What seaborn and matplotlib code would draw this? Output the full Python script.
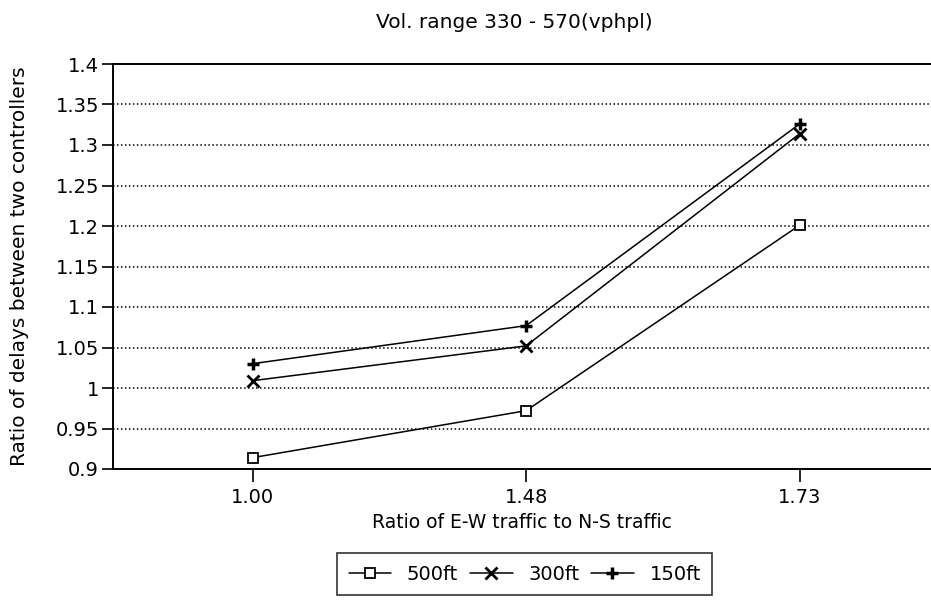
import pandas as pd
import matplotlib
matplotlib.use("Agg")
import matplotlib.pyplot as plt
import seaborn as sns

# values
ratios = ["1.00", "1.48", "1.73"]
delay_500 = [0.914, 0.972, 1.201]
delay_300 = [1.009, 1.052, 1.314]
delay_150 = [1.030, 1.077, 1.326]
series_names = ["500ft", "300ft", "150ft"]
ytick_vals = [0.9, 0.95, 1.0, 1.05, 1.1, 1.15, 1.2, 1.25, 1.3, 1.35, 1.4]
ytick_labels = ["0.9", "0.95", "1", "1.05", "1.1", "1.15", "1.2", "1.25", "1.3", "1.35", "1.4"]

df = pd.DataFrame({
    "ratio": ratios * 3,
    "delay": delay_500 + delay_300 + delay_150,
    "spacing": [s for s in series_names for _ in ratios],
})

sns.set_style("white")
plt.rcParams["font.family"] = ["DejaVu Sans"]
plt.rcParams["text.color"] = "black"
plt.rcParams["axes.labelcolor"] = "black"

fig = plt.figure(figsize=(9.31, 6.0), dpi=100)
ax = fig.add_axes([113 / 931, 1 - 469 / 600, 1 - 113 / 931, (469 - 64) / 600])

sns.pointplot(data=df, x="ratio", y="delay", hue="spacing", order=ratios,
              hue_order=series_names, palette=["black"] * 3,
              markers=["s", "x", "+"], linestyles=["-", "-", "-"],
              errorbar=None, dodge=False, ax=ax, legend=False)

# marker styling
styles = {
    "500ft": dict(marker="s", markersize=6.5, markerfacecolor="white", markeredgewidth=1.3),
    "300ft": dict(marker="x", markersize=9, markeredgewidth=2.0),
    "150ft": dict(marker="+", markersize=9, markeredgewidth=2.5),
}
data_lines = [l for l in ax.lines if len(l.get_xdata()) == len(ratios)]
for line, name in zip(data_lines, series_names):
    line.set_color("black")
    line.set_linewidth(1.1)
    line.set(**styles[name])
    line.set_zorder(3)
    line.set_label(name)

for c in ax.collections:
    c.remove()

ax.set_xlim(-0.51, 2.48)
ax.set_ylim(0.9, 1.4)
ax.set_yticks(ytick_vals)
ax.set_yticklabels(ytick_labels)
ax.yaxis.grid(True, color="black", linestyle=(0, (1, 1.6)), linewidth=1.1)
ax.set_axisbelow(True)

for side in ["left", "bottom", "top"]:
    ax.spines[side].set_visible(True)
    ax.spines[side].set_color("black")
    ax.spines[side].set_linewidth(1.4)
ax.spines["right"].set_visible(False)

ax.tick_params(axis="y", which="both", left=True, length=8, width=1.2, pad=2, labelsize=14, colors="black")
ax.tick_params(axis="x", which="both", bottom=True, length=9, width=1.2, pad=5, labelsize=14, colors="black")

ax.set_xlabel("Ratio of E-W traffic to N-S traffic", fontsize=13.5, labelpad=4)
ax.set_ylabel("Ratio of delays between two controllers", fontsize=14.5)
ax.yaxis.set_label_coords(-0.103, 0.5)

fig.text(514 / 931, 1 - 22 / 600, "Vol. range 330 - 570(vphpl)", ha="center", va="center", fontsize=14.5)

leg = fig.legend(handles=data_lines, labels=series_names, loc="upper left",
                 bbox_to_anchor=(337 / 931, 1 - 553 / 600), ncol=3, frameon=True,
                 fancybox=False, edgecolor="black", fontsize=14, handlelength=2.2,
                 handletextpad=0.8, columnspacing=0.6, borderpad=0.6, borderaxespad=0)
leg.get_frame().set_linewidth(1.2)

fig.savefig("out.png", dpi=100)
